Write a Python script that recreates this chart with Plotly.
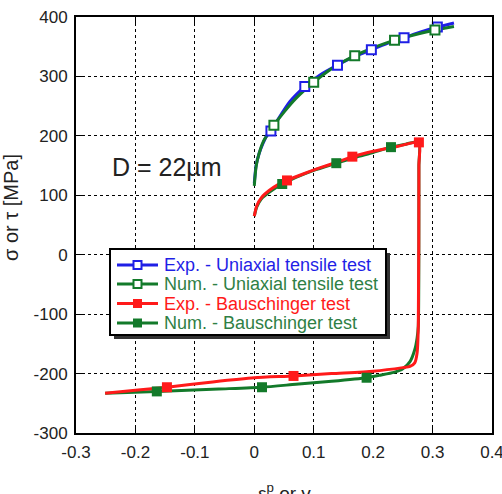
import plotly.graph_objects as go

# ---- data ----
# Exp. - Uniaxial tensile test (curve + marker points)
exp_uni_x = [0.0, 0.003, 0.008, 0.015, 0.021, 0.028, 0.04, 0.06, 0.085, 0.11, 0.14, 0.17, 0.197, 0.225, 0.252, 0.28, 0.308, 0.336]
exp_uni_y = [120, 150, 170, 188, 200, 208, 228, 258, 283, 302, 319, 334, 345, 356, 365, 375, 383, 390]
exp_uni_mx = [0.028, 0.085, 0.140, 0.197, 0.252, 0.308]
exp_uni_my = [208, 283, 319, 345, 365, 383]

# Num. - Uniaxial tensile test
num_uni_x = [0.0, 0.003, 0.008, 0.015, 0.024, 0.033, 0.05, 0.07, 0.1, 0.13, 0.169, 0.2, 0.236, 0.27, 0.304, 0.336]
num_uni_y = [116, 148, 170, 190, 205, 218, 240, 263, 290, 313, 335, 348, 361, 370, 378, 384]
num_uni_mx = [0.033, 0.100, 0.169, 0.236, 0.304]
num_uni_my = [218, 290, 335, 361, 378]

# Exp. - Bauschinger test (forward then reverse loading)
exp_bau_x = [0.0, 0.004, 0.012, 0.025, 0.04, 0.055, 0.08, 0.11, 0.14, 0.165, 0.2, 0.24, 0.277,
             0.277, 0.276, 0.274, 0.27, 0.262, 0.25, 0.2, 0.13, 0.066, 0.0, -0.07, -0.147, -0.2, -0.251]
exp_bau_y = [65, 82, 96, 108, 118, 125, 135, 146, 156, 165, 174, 182, 189,
             150, -120, -165, -182, -188, -190, -196, -200, -204, -207, -214, -223, -228, -233]
exp_bau_mx = [0.055, 0.165, 0.277, 0.066, -0.147]
exp_bau_my = [125, 165, 189, -204, -223]

# Num. - Bauschinger test
num_bau_x = [0.0, 0.004, 0.012, 0.025, 0.047, 0.07, 0.1, 0.138, 0.17, 0.2, 0.23, 0.255, 0.277,
             0.277, 0.276, 0.274, 0.27, 0.262, 0.25, 0.235, 0.21, 0.189, 0.13, 0.07, 0.013, -0.06, -0.164, -0.251]
num_bau_y = [65, 80, 94, 105, 119, 130, 142, 154, 164, 172, 181, 186, 190,
             150, -120, -140, -160, -180, -192, -198, -203, -207, -213, -218, -223, -226, -230, -233]
num_bau_mx = [0.047, 0.138, 0.230, 0.189, 0.013, -0.164]
num_bau_my = [119, 154, 181, -207, -223, -230]

x_tickvals = [-0.3, -0.2, -0.1, 0, 0.1, 0.2, 0.3, 0.4]
x_ticktext = ["-0.3", "-0.2", "-0.1", "0", "0.1", "0.2", "0.3", "0.4"]
y_tickvals = [-300, -200, -100, 0, 100, 200, 300, 400]
y_ticktext = ["-300", "-200", "-100", "0", "100", "200", "300", "400"]

names = ["Exp. - Uniaxial tensile test", "Num. - Uniaxial tensile test",
         "Exp. - Bauschinger test", "Num. - Bauschinger test"]

BLUE = "#1f1fe6"
GREEN = "#137a2a"
RED = "#ff1a1a"
TXT_GREEN = "#2f7f45"
FONT = "Liberation Sans, Arial"

# plot area in pixels
L, R, T, B = 76, 492, 17, 433
W, H = R - L, B - T


def px(xp):
    return (xp - L) / W


def py(yp):
    return (B - yp) / H


fig = go.Figure()

series = [
    (exp_uni_x, exp_uni_y, exp_uni_mx, exp_uni_my, BLUE, "white", BLUE),
    (num_uni_x, num_uni_y, num_uni_mx, num_uni_my, GREEN, "white", TXT_GREEN),
    (exp_bau_x, exp_bau_y, exp_bau_mx, exp_bau_my, RED, RED, RED),
    (num_bau_x, num_bau_y, num_bau_mx, num_bau_my, GREEN, GREEN, TXT_GREEN),
]
draw_order = [0, 1, 3, 2]
for i in draw_order:
    x, y, mx, my, col, fill, tcol = series[i]
    fig.add_trace(go.Scatter(x=x, y=y, mode="lines", name=names[i],
                             line=dict(color=col, width=3, shape="spline", smoothing=0.6),
                             showlegend=False, hoverinfo="skip"))
for i in draw_order:
    x, y, mx, my, col, fill, tcol = series[i]
    open_m = fill == "white"
    fig.add_trace(go.Scatter(x=mx, y=my, mode="markers", name=names[i],
                             marker=dict(symbol="square", size=9 if open_m else 10, color=fill,
                                         line=dict(color=col, width=2 if open_m else 0)),
                             showlegend=False, hoverinfo="skip"))

axis_common = dict(showline=True, linecolor="black", linewidth=2, mirror="allticks",
                   ticks="inside", ticklen=7, tickwidth=1, tickcolor="black",
                   showgrid=True, gridcolor="black", gridwidth=1, griddash="dot",
                   zeroline=False, automargin=False, ticklabeloverflow="allow",
                   ticklabelstandoff=3,
                   tickfont=dict(family=FONT, size=17, color="#222"))

fig.update_xaxes(range=[-0.3, 0.4], tickvals=x_tickvals, ticktext=x_ticktext, **axis_common)
fig.update_yaxes(range=[-300, 400], tickvals=y_tickvals, ticktext=y_ticktext, **axis_common)

# ---- legend box (drawn with shapes + text so its row spacing matches) ----
LG_L, LG_T, LG_R, LG_B = 110, 249, 386, 335
fig.add_shape(type="rect", xref="paper", yref="paper",
              x0=px(LG_L + 4), x1=px(LG_R + 4), y0=py(LG_B + 4), y1=py(LG_T + 4),
              fillcolor="#333", line=dict(width=0), layer="above")
fig.add_shape(type="rect", xref="paper", yref="paper",
              x0=px(LG_L), x1=px(LG_R), y0=py(LG_B), y1=py(LG_T),
              fillcolor="white", line=dict(color="black", width=2), layer="above")
row_y = [265, 284, 303.5, 323]
for i in range(4):
    x, y, mx, my, col, fill, tcol = series[i]
    yy = row_y[i]
    open_m = fill == "white"
    fig.add_shape(type="line", xref="paper", yref="paper",
                  x0=px(117), x1=px(158), y0=py(yy), y1=py(yy),
                  line=dict(color=col, width=3), layer="above")
    hs = 4 if open_m else 4.5
    fig.add_shape(type="rect", xref="paper", yref="paper",
                  x0=px(137.5 - hs), x1=px(137.5 + hs), y0=py(yy + hs), y1=py(yy - hs),
                  fillcolor=fill, line=dict(color=col, width=2 if open_m else 0), layer="above")
    fig.add_annotation(x=px(162), y=py(yy), xref="paper", yref="paper",
                       xanchor="left", yanchor="middle", text=names[i], showarrow=False,
                       font=dict(family=FONT, size=18, color=tcol))

fig.add_annotation(x=-0.147, y=148, xref="x", yref="y", text="D = 22\u00b5m", showarrow=False,
                   xanchor="center", font=dict(family=FONT, size=25, color="#222"))
fig.add_annotation(x=px(11), y=py(208), xref="paper", yref="paper", xanchor="center", yanchor="middle",
                   text="\u03c3 or \u03c4 [MPa]", textangle=-90, showarrow=False,
                   font=dict(family=FONT, size=20, color="#222"))
fig.add_annotation(x=0.5, y=py(478), xref="paper", yref="paper", xanchor="center", yanchor="top",
                   text="\u03b5<sup>p</sup> or \u03b3", showarrow=False,
                   font=dict(family=FONT, size=19, color="#222"))

fig.update_layout(
    width=502, height=494,
    margin=dict(l=L, r=502 - R, t=T, b=494 - B, autoexpand=False),
    plot_bgcolor="white", paper_bgcolor="white",
    showlegend=False,
)

fig.write_html("out.html")
